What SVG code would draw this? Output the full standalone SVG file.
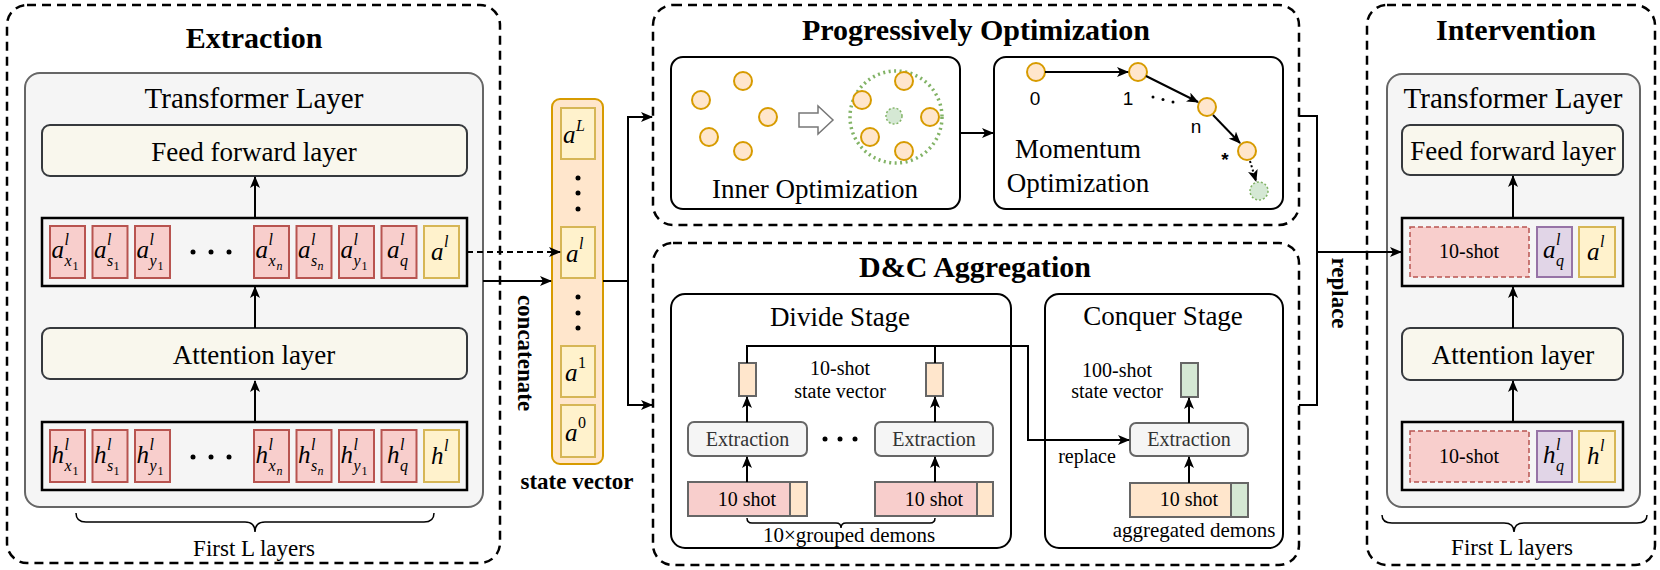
<svg xmlns="http://www.w3.org/2000/svg" width="1660" height="570" viewBox="0 0 1660 570">
<defs>
<style>
.t{font-family:"Liberation Serif","Times New Roman",serif;fill:#000}
.ti{font-family:"Liberation Serif","Times New Roman",serif;font-weight:bold;font-size:30px;text-anchor:middle}
.bl{font-family:"Liberation Serif","Times New Roman",serif;font-weight:bold;font-size:23px}
.l27{font-size:27px;text-anchor:middle}
.l20{font-size:20px;text-anchor:middle}
.l21{font-size:21px;text-anchor:middle}
.sans{font-family:"Liberation Sans",Arial,sans-serif;font-size:19px;text-anchor:middle}
.mi{font-family:"Liberation Serif","Times New Roman",serif;font-style:italic}
.dash{fill:none;stroke:#000;stroke-width:2.5;stroke-dasharray:9 6}
.gbox{fill:#f5f5f5;stroke:#666;stroke-width:2}
.layer{fill:#f9f7ed;stroke:#36393d;stroke-width:2}
.row{fill:none;stroke:#000;stroke-width:2.5}
.red{fill:#f8cecc;stroke:#b85450;stroke-width:2}
.redd{fill:#f8cecc;stroke:#b85450;stroke-width:1.5;stroke-dasharray:5 3}
.yel{fill:#fff2cc;stroke:#d6b656;stroke-width:2}
.pur{fill:#e1d5e7;stroke:#9673a6;stroke-width:2}
.ora{fill:#ffe6cc;stroke:#d79b00;stroke-width:2}
.box{fill:#fff;stroke:#000;stroke-width:2}
.ln{fill:none;stroke:#000;stroke-width:2}
.arr{fill:none;stroke:#000;stroke-width:2;marker-end:url(#ah)}
.ext{fill:#f5f5f5;stroke:#666;stroke-width:2}
.g6o{fill:#ffe6cc;stroke:#666;stroke-width:2}
.g6r{fill:#f8cecc;stroke:#666;stroke-width:2}
.g6g{fill:#d5e8d4;stroke:#666;stroke-width:2}
.gray{fill:#333}
.A{font-size:25px}
.S{font-size:16px}
.SS{font-size:12px;font-style:normal}
.SN{font-size:12px}
</style>
<marker id="ah" viewBox="0 0 12 10" refX="11" refY="5" markerWidth="12" markerHeight="10" markerUnits="userSpaceOnUse" orient="auto"><path d="M0,0 L12,5 L0,10 L3,5 Z" fill="#000"/></marker>
</defs>
<rect width="1660" height="570" fill="#fff"/>

<!-- Extraction -->
<g id="extraction">
<rect class="dash" x="7" y="5" width="493" height="558" rx="20"/>
<text class="ti" x="254" y="48">Extraction</text>
<rect class="gbox" x="25" y="73" width="458" height="434" rx="15"/>
<text class="t l27" x="254" y="108" style="font-size:29px">Transformer Layer</text>
<rect class="layer" x="42" y="125" width="425" height="51" rx="8"/>
<text class="t l27" x="254" y="161">Feed forward layer</text>
<rect class="layer" x="42" y="328" width="425" height="51" rx="8"/>
<text class="t l27" x="254" y="364">Attention layer</text>
<!-- a row -->
<rect class="row" x="42" y="218" width="425" height="68"/>
<rect class="red" x="50" y="226" width="35" height="52"/>
<rect class="red" x="92.5" y="226" width="35" height="52"/>
<rect class="red" x="135" y="226" width="35" height="52"/>
<rect class="red" x="254" y="226" width="35" height="52"/>
<rect class="red" x="296.5" y="226" width="35" height="52"/>
<rect class="red" x="339" y="226" width="35" height="52"/>
<rect class="red" x="381.5" y="226" width="35" height="52"/>
<rect class="yel" x="424" y="226" width="35" height="52"/>
<circle cx="193" cy="252" r="2.5"/><circle cx="211" cy="252" r="2.5"/><circle cx="229" cy="252" r="2.5"/>
<text class="mi"><tspan class="A" x="51.5" y="258">a</tspan><tspan class="S" x="64.5" y="245">l</tspan><tspan class="S" x="64.5" y="266">x</tspan><tspan class="SS" x="72.5" y="270">1</tspan></text>
<text class="mi"><tspan class="A" x="94" y="258">a</tspan><tspan class="S" x="107" y="245">l</tspan><tspan class="S" x="107" y="266">s</tspan><tspan class="SS" x="113.5" y="270">1</tspan></text>
<text class="mi"><tspan class="A" x="136.5" y="258">a</tspan><tspan class="S" x="149.5" y="245">l</tspan><tspan class="S" x="149.5" y="266">y</tspan><tspan class="SS" x="157.5" y="270">1</tspan></text>
<text class="mi"><tspan class="A" x="255.5" y="258">a</tspan><tspan class="S" x="268.5" y="245">l</tspan><tspan class="S" x="268.5" y="266">x</tspan><tspan class="SN" x="276.5" y="270">n</tspan></text>
<text class="mi"><tspan class="A" x="298" y="258">a</tspan><tspan class="S" x="311" y="245">l</tspan><tspan class="S" x="311" y="266">s</tspan><tspan class="SN" x="317.5" y="270">n</tspan></text>
<text class="mi"><tspan class="A" x="340.5" y="258">a</tspan><tspan class="S" x="353.5" y="245">l</tspan><tspan class="S" x="353.5" y="266">y</tspan><tspan class="SS" x="361.5" y="270">1</tspan></text>
<text class="mi"><tspan class="A" x="387" y="258">a</tspan><tspan class="S" x="400" y="245">l</tspan><tspan class="S" x="400" y="266">q</tspan></text>
<text class="mi"><tspan class="A" x="431" y="260">a</tspan><tspan class="S" x="444" y="247">l</tspan></text>
<!-- h row -->
<rect class="row" x="42" y="422" width="425" height="68"/>
<rect class="red" x="50" y="430" width="35" height="52"/>
<rect class="red" x="92.5" y="430" width="35" height="52"/>
<rect class="red" x="135" y="430" width="35" height="52"/>
<rect class="red" x="254" y="430" width="35" height="52"/>
<rect class="red" x="296.5" y="430" width="35" height="52"/>
<rect class="red" x="339" y="430" width="35" height="52"/>
<rect class="red" x="381.5" y="430" width="35" height="52"/>
<rect class="yel" x="424" y="430" width="35" height="52"/>
<circle cx="193" cy="457" r="2.5"/><circle cx="211" cy="457" r="2.5"/><circle cx="229" cy="457" r="2.5"/>
<text class="mi"><tspan class="A" x="51.5" y="463">h</tspan><tspan class="S" x="64.5" y="450">l</tspan><tspan class="S" x="64.5" y="471">x</tspan><tspan class="SS" x="72.5" y="475">1</tspan></text>
<text class="mi"><tspan class="A" x="94" y="463">h</tspan><tspan class="S" x="107" y="450">l</tspan><tspan class="S" x="107" y="471">s</tspan><tspan class="SS" x="113.5" y="475">1</tspan></text>
<text class="mi"><tspan class="A" x="136.5" y="463">h</tspan><tspan class="S" x="149.5" y="450">l</tspan><tspan class="S" x="149.5" y="471">y</tspan><tspan class="SS" x="157.5" y="475">1</tspan></text>
<text class="mi"><tspan class="A" x="255.5" y="463">h</tspan><tspan class="S" x="268.5" y="450">l</tspan><tspan class="S" x="268.5" y="471">x</tspan><tspan class="SN" x="276.5" y="475">n</tspan></text>
<text class="mi"><tspan class="A" x="298" y="463">h</tspan><tspan class="S" x="311" y="450">l</tspan><tspan class="S" x="311" y="471">s</tspan><tspan class="SN" x="317.5" y="475">n</tspan></text>
<text class="mi"><tspan class="A" x="340.5" y="463">h</tspan><tspan class="S" x="353.5" y="450">l</tspan><tspan class="S" x="353.5" y="471">y</tspan><tspan class="SS" x="361.5" y="475">1</tspan></text>
<text class="mi"><tspan class="A" x="387" y="463">h</tspan><tspan class="S" x="400" y="450">l</tspan><tspan class="S" x="400" y="471">q</tspan></text>
<text class="mi"><tspan class="A" x="431" y="464">h</tspan><tspan class="S" x="444" y="451">l</tspan></text>
<path class="ln" style="stroke-width:1.5" d="M76,513 Q76,522 86,522 L245,522 Q255,522 255,532 Q255,522 265,522 L424,522 Q434,522 434,513"/>
<text class="t" x="254" y="556" font-size="23" text-anchor="middle">First L layers</text>
</g>

<!-- State vector -->
<g id="state-vector">
<rect x="552" y="99" width="51" height="365" rx="8" fill="#ffe6cc" stroke="#d79b00" stroke-width="2"/>
<rect class="yel" x="561" y="108" width="34" height="51"/>
<rect class="yel" x="561" y="227" width="34" height="51"/>
<rect class="yel" x="561" y="346" width="34" height="51"/>
<rect class="yel" x="561" y="405" width="34" height="52"/>
<circle cx="578" cy="178" r="2.5"/><circle cx="578" cy="193" r="2.5"/><circle cx="578" cy="209" r="2.5"/>
<circle cx="578" cy="297" r="2.5"/><circle cx="578" cy="313" r="2.5"/><circle cx="578" cy="328" r="2.5"/>
<text class="mi"><tspan class="A" x="563" y="143">a</tspan><tspan class="S" x="576" y="131">L</tspan></text>
<text class="mi"><tspan class="A" x="566" y="262">a</tspan><tspan class="S" x="579" y="249">l</tspan></text>
<text class="mi"><tspan class="A" x="565" y="381">a</tspan><tspan class="S" x="578" y="368" font-style="normal">1</tspan></text>
<text class="mi"><tspan class="A" x="565" y="441">a</tspan><tspan class="S" x="578" y="428" font-style="normal">0</tspan></text>
<text class="bl" x="577" y="489" text-anchor="middle">state vector</text>
<text class="bl" transform="translate(525,353) rotate(90)" x="0" y="7" text-anchor="middle">concatenate</text>
</g>

<!-- Progressively Optimization -->
<g id="progressive">
<rect class="dash" x="653" y="5" width="646" height="220" rx="20"/>
<text class="ti" x="976" y="40">Progressively Optimization</text>
</g>
<g id="inner-opt">
<rect class="box" x="671" y="57" width="289" height="152" rx="12"/>
<circle class="ora" cx="701" cy="100" r="9"/>
<circle class="ora" cx="743" cy="81" r="9"/>
<circle class="ora" cx="768" cy="117" r="9"/>
<circle class="ora" cx="709" cy="137" r="9"/>
<circle class="ora" cx="743" cy="151" r="9"/>
<path d="M799,113 L818,113 L818,106 L833,120 L818,134 L818,127 L799,127 Z" fill="#fff" stroke="#777" stroke-width="1.5"/>
<circle cx="896" cy="117" r="46" fill="none" stroke="#82b366" stroke-width="3.5" stroke-dasharray="2 3.5"/>
<circle cx="894" cy="116" r="8" fill="#d5e8d4" stroke="#82b366" stroke-width="1.5" stroke-dasharray="2 2"/>
<circle class="ora" cx="904" cy="81" r="9"/>
<circle class="ora" cx="862" cy="100" r="9"/>
<circle class="ora" cx="930" cy="117" r="9"/>
<circle class="ora" cx="870" cy="137" r="9"/>
<circle class="ora" cx="904" cy="151" r="9"/>
<text class="t l27" x="815" y="198">Inner Optimization</text>
</g>
<g id="momentum-opt">
<rect class="box" x="994" y="57" width="289" height="152" rx="12"/>
<circle class="ora" cx="1036" cy="72" r="9"/>
<circle class="ora" cx="1138" cy="72" r="9"/>
<circle class="ora" cx="1207" cy="107" r="9"/>
<circle class="ora" cx="1247" cy="151" r="9"/>
<circle cx="1259" cy="191" r="9" fill="#d5e8d4" stroke="#82b366" stroke-width="1.5" stroke-dasharray="2 2"/>
<text class="sans" x="1035" y="105">0</text>
<text class="sans" x="1128" y="105">1</text>
<text class="sans" x="1196" y="133">n</text>
<text class="sans" x="1225" y="166" style="font-weight:bold">*</text>
<circle cx="1153" cy="97" r="1.5"/><circle cx="1163" cy="99.5" r="1.5"/><circle cx="1173" cy="102" r="1.5"/>
<text class="t l27" x="1078" y="158">Momentum</text>
<text class="t l27" x="1078" y="192">Optimization</text>
</g>

<!-- D&C Aggregation -->
<g id="dc-aggregation">
<rect class="dash" x="653" y="243" width="646" height="322" rx="20"/>
<text class="ti" x="975" y="277">D&amp;C Aggregation</text>
</g>
<g id="divide-stage">
<rect class="box" x="671" y="294" width="340" height="254" rx="14"/>
<text class="t l27" x="840" y="326">Divide Stage</text>
<rect class="g6o" x="739" y="363" width="17" height="33"/>
<rect class="g6o" x="926" y="363" width="17" height="33"/>
<text class="t l20" x="840" y="375">10-shot</text>
<text class="t l20" x="840" y="398">state vector</text>
<rect class="ext" x="688" y="422" width="119" height="34" rx="6"/>
<rect class="ext" x="875" y="422" width="118" height="34" rx="6"/>
<text class="t l20 gray" x="747.5" y="446">Extraction</text>
<text class="t l20 gray" x="934" y="446">Extraction</text>
<circle cx="825" cy="439" r="2.5"/><circle cx="840" cy="439" r="2.5"/><circle cx="855" cy="439" r="2.5"/>
<rect class="g6r" x="688" y="482" width="102" height="34"/>
<rect class="g6o" x="790" y="482" width="17" height="34"/>
<rect class="g6r" x="875" y="482" width="102" height="34"/>
<rect class="g6o" x="977" y="482" width="16" height="34"/>
<text class="t l20" x="747" y="506">10 shot</text>
<text class="t l20" x="934" y="506">10 shot</text>
<path class="ln" style="stroke-width:1.5" d="M747,518 Q747,523 752,523 L836,523 Q841,523 841,528 Q841,523 846,523 L930,523 Q935,523 935,518"/>
<text class="t l21" x="849" y="542">10×grouped demons</text>
</g>
<g id="conquer-stage">
<rect class="box" x="1045" y="294" width="238" height="254" rx="14"/>
<text class="t l27" x="1163" y="325">Conquer Stage</text>
<rect class="g6g" x="1181" y="363" width="17" height="34"/>
<text class="t l20" x="1117" y="377">100-shot</text>
<text class="t l20" x="1117" y="398">state vector</text>
<rect class="ext" x="1130" y="423" width="118" height="33" rx="6"/>
<text class="t l20 gray" x="1189" y="446">Extraction</text>
<rect class="g6o" x="1130" y="483" width="101" height="34"/>
<rect class="g6g" x="1231" y="483" width="17" height="34"/>
<text class="t l20" x="1189" y="506">10 shot</text>
<text class="t l20" x="1087" y="463">replace</text>
<text class="t l21" x="1194" y="537">aggregated demons</text>
</g>

<!-- Intervention -->
<g id="intervention">
<rect class="dash" x="1367" y="5" width="288" height="560" rx="20"/>
<text class="ti" x="1516" y="40">Intervention</text>
<rect class="gbox" x="1387" y="74" width="253" height="433" rx="15"/>
<text class="t l27" x="1513" y="108" style="font-size:29px">Transformer Layer</text>
<rect class="layer" x="1402" y="125" width="221" height="50" rx="8"/>
<text class="t l27" x="1513" y="160">Feed forward layer</text>
<rect class="layer" x="1402" y="328" width="221" height="52" rx="8"/>
<text class="t l27" x="1513" y="364">Attention layer</text>
<rect class="row" x="1402" y="218" width="221" height="68"/>
<rect class="redd" x="1410" y="227" width="119" height="50"/>
<text class="t l20" x="1469" y="258">10-shot</text>
<rect class="pur" x="1537" y="227" width="35" height="50"/>
<rect class="yel" x="1579" y="227" width="36" height="50"/>
<text class="mi"><tspan class="A" x="1543" y="258">a</tspan><tspan class="S" x="1556" y="245">l</tspan><tspan class="S" x="1556" y="266">q</tspan></text>
<text class="mi"><tspan class="A" x="1587" y="260">a</tspan><tspan class="S" x="1600" y="247">l</tspan></text>
<rect class="row" x="1402" y="422" width="221" height="68"/>
<rect class="redd" x="1410" y="431" width="119" height="51"/>
<text class="t l20" x="1469" y="463">10-shot</text>
<rect class="pur" x="1537" y="431" width="35" height="51"/>
<rect class="yel" x="1579" y="431" width="36" height="51"/>
<text class="mi"><tspan class="A" x="1543" y="463">h</tspan><tspan class="S" x="1556" y="450">l</tspan><tspan class="S" x="1556" y="471">q</tspan></text>
<text class="mi"><tspan class="A" x="1587" y="464">h</tspan><tspan class="S" x="1600" y="451">l</tspan></text>
<path class="ln" style="stroke-width:1.5" d="M1382,515 Q1382,523 1392,523 L1504,523 Q1514,523 1514,532 Q1514,523 1524,523 L1637,523 Q1647,523 1647,515"/>
<text class="t" x="1512" y="555" font-size="23" text-anchor="middle">First L layers</text>
</g>

<!-- Connectors -->
<g id="connectors">
<path class="arr" d="M255,218 V177"/>
<path class="arr" d="M255,328 V287"/>
<path class="arr" d="M255,422 V381"/>
<path class="arr" d="M1513,218 V176"/>
<path class="arr" d="M1513,328 V287"/>
<path class="arr" d="M1513,422 V381"/>
<path class="arr" style="stroke-dasharray:6 4" d="M467,252 H560"/>
<path class="arr" d="M483,281 H551"/>
<path class="ln" d="M603,281 H628 M628,116 V405"/>
<path class="arr" d="M627,117 H652"/>
<path class="arr" d="M627,405 H652"/>
<path class="arr" d="M960,133 H993"/>
<path class="arr" d="M1045,72 H1128"/>
<path class="arr" d="M1146,76 L1198,102"/>
<path class="arr" d="M1213,115 L1240,143"/>
<path class="arr" style="stroke-dasharray:2 2.5" d="M1250,161 L1256,181"/>
<path class="ln" d="M1299,116 H1317 V405 H1299"/>
<path class="arr" d="M1317,252 H1401"/>
<text class="bl" transform="translate(1339,293) rotate(90)" x="0" y="7" text-anchor="middle">replace</text>
<path class="ln" d="M747,363 V346 H1028 V440 H1118 M935,363 V346"/>
<path class="arr" d="M1110,440 H1129"/>
<path class="arr" d="M747,422 V397"/>
<path class="arr" d="M935,422 V397"/>
<path class="arr" d="M747,482 V457"/>
<path class="arr" d="M935,482 V457"/>
<path class="arr" d="M1189,423 V398"/>
<path class="arr" d="M1189,483 V457"/>
</g>
</svg>
